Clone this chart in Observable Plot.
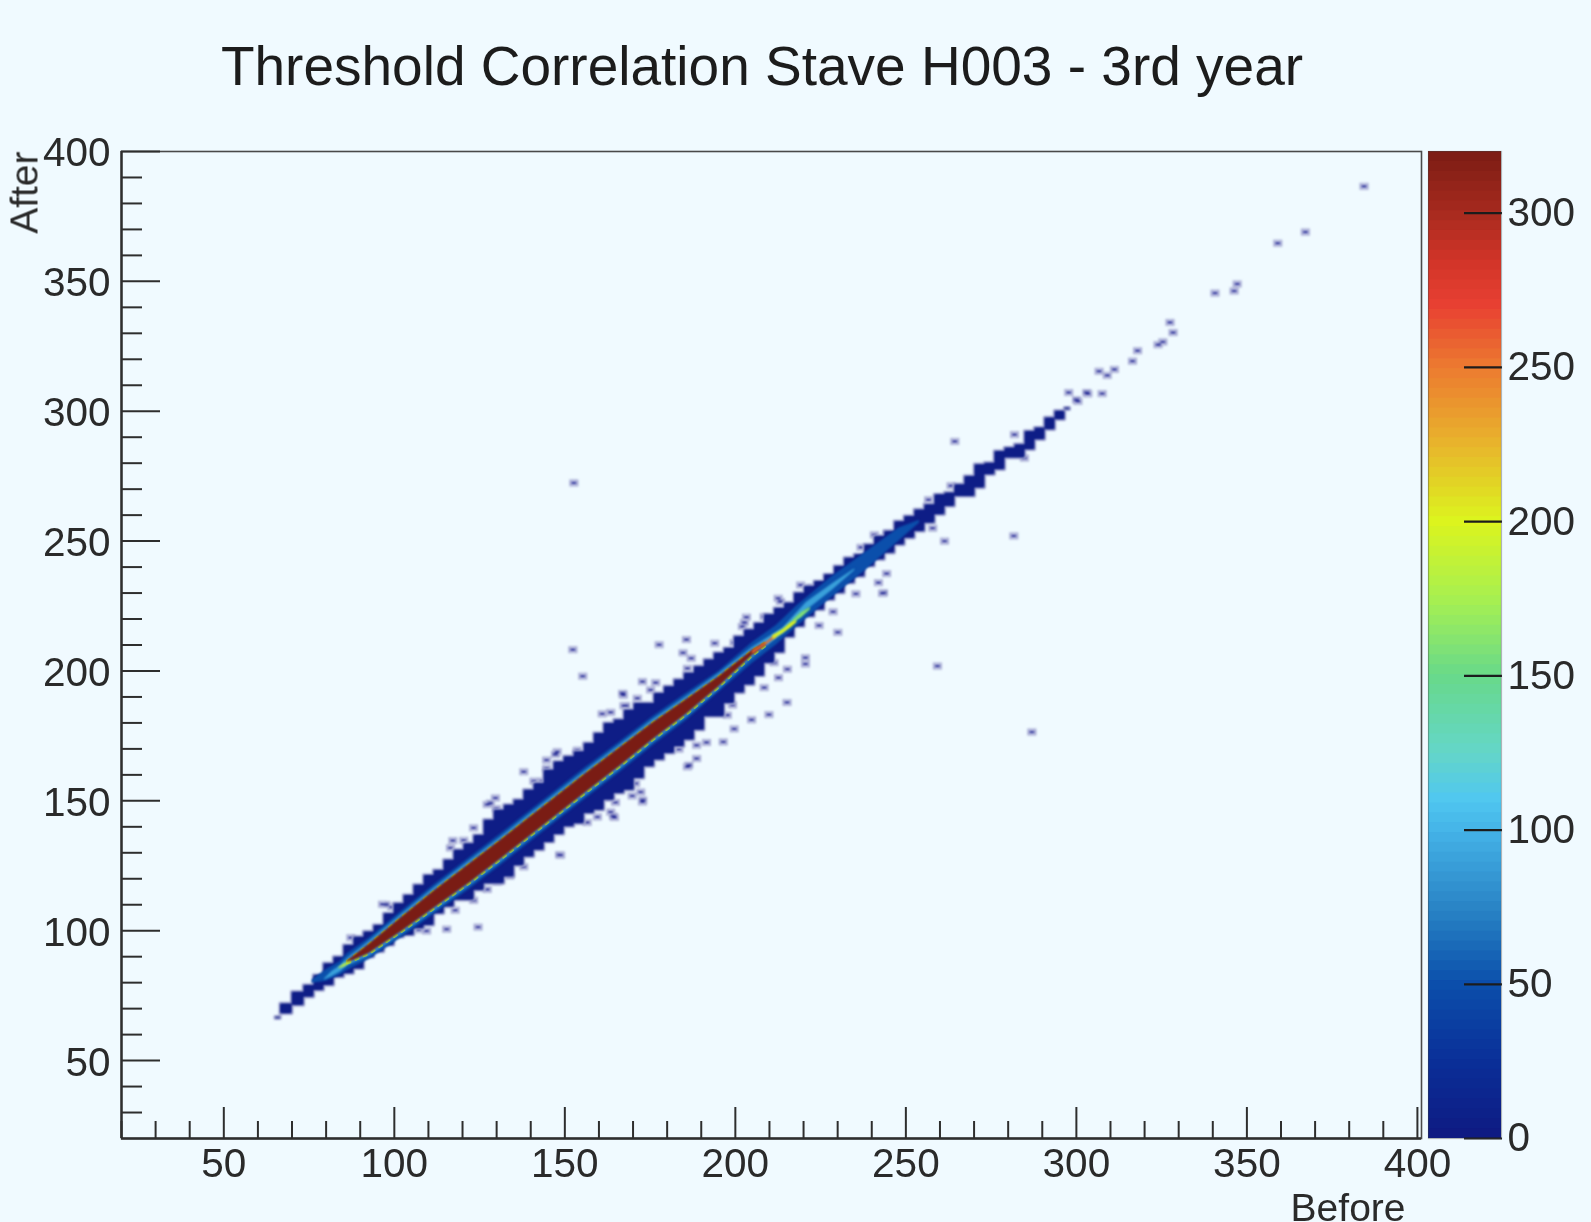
<!DOCTYPE html>
<html><head><meta charset="utf-8">
<script src="https://cdn.jsdelivr.net/npm/d3@7"></script>
<script src="https://cdn.jsdelivr.net/npm/@observablehq/plot@0.6"></script>
<style>
html,body{margin:0;padding:0;background:#f0faff;}
#root{position:relative;width:1591px;height:1222px;overflow:hidden;background:#f0faff;font-family:"Liberation Sans",sans-serif;}
#title{position:absolute;left:0;top:34px;width:1524px;text-align:center;font-size:55px;line-height:64px;color:#1c1c1c;filter:blur(.5px);}
#root svg{position:absolute;left:0;top:0;background:transparent;overflow:visible;}
</style></head><body>
<div id="root"><div id="title">Threshold Correlation Stave H003 - 3rd year</div></div>
<script>
const xMajor = [50,100,150,200,250,300,350,400];
const yMajor = [50,100,150,200,250,300,350,400];
const xMinor = [20,30,40,60,70,80,90,110,120,130,140,160,170,180,190,210,220,230,240,260,270,280,290,310,320,330,340,360,370,380,390];
const yMinor = [30,40,60,70,80,90,110,120,130,140,160,170,180,190,210,220,230,240,260,270,280,290,310,320,330,340,360,370,380,390];
const zTicks = [0,50,100,150,200,250,300];
const zStops  = [0,25,50,75,100,110,125,150,175,200,225,250,270,285,300,320];
const zColors = ["#0f1a82","#0a2f98","#0b4fab","#2a85c6","#45b4e8","#50c8f0","#64d6c8","#68d98a","#a8f050","#dcf41e","#e8b42c","#ec7a30","#e84032","#d03428","#a82a1e","#7a1c14"];

// outer envelope of the populated bins
const outerB = [65.2,68.1,72,75,77.9,80.8,83.8,86.7,89.6,92.6,95.5,98.5,101.4,104.3,107.3,110.2,113.1,116.1,119,121.9,124.9,127.8,130.8,133.7,136.6,139.5,142.5,145.4,148.3,151.3,154.2,157.2,160.1,163,166,168.9,171.8,174.8,177.7,180.7,183.6,186.5,189.5,192.4,195.3,198.3,201.2,204.2,207.1,210,213,215.9,218.8,221.8,224.7,227.6,230.6,233.5,236.5,239.4,242.3,245.3,248.2,251.1,254.1,257,260,262.9,265.8,268.8,271.7,274.6,277.6,280.5,283.5,286.4,289.3,292.3,295.2,298.1];
const outerL = [66.1,68,71.2,74.4,77,78.9,82.1,83.4,85.3,89.8,91.8,94.3,97.5,98.2,100.8,102,106.5,109.1,111.7,111.7,115.5,118.1,118.1,120.7,125,128.4,131,134,137,140,141.2,145.1,146.4,150.2,152.8,154.1,158.6,163.1,165.7,168.2,170.8,173.4,177.2,182.4,182.4,187.5,191.5,194.6,198,203,207,213,217,220.9,223.5,227.3,229.9,233.8,236.3,240.2,242.8,245.3,248.5,251.1,253.7,256.9,260.1,263.3,267.2,267.2,270.4,275.5,277.5,282,282,285.2,289,292.9,296.7,300.6];
const outerH = [66.7,71.8,76.3,78.9,82.8,87.3,89.8,94.3,97.5,99.5,102,106.5,110.4,113.6,117.5,121.3,123.2,127.1,131,133.5,136.7,142.5,146.4,148.3,150.2,154.1,156.7,161.8,165,167,168.9,172.1,175.9,179.8,181.1,184.9,187.5,187.5,191.3,193.9,196.5,199.1,201.6,204.2,206.8,208.7,213.2,215.8,218.3,221.6,224.1,226.1,229.9,232.5,234.4,237,240.2,243.4,244.7,248.5,251.8,253.7,257.5,259.5,262,264,267.8,268.5,271.7,274.9,279.4,280,284.5,285.8,287.1,292.2,293.5,297.4,300,301.2];
// blue inner band
const blueB = [75.9,80,84,86.2,92.6,102.4,112,122,131,139.6,147.5,156,166,175.8,185.5,195.3,205,212,218,228,238,248,254];
const blueL = [79.8,80.5,82.8,84.7,88.9,97.6,106.6,116,125,133.9,142,150.7,160.8,171.2,180.8,192,203,210,217,228,238.5,250,257];
const blueH = [81,85,88,91.1,97.1,107.8,118,128,137,145.9,154,162.7,172.6,182.4,191.2,200,211,217.5,225,236,245.5,255,258];
// shell around the core and its two tails
const shellB = [79.5,81.8,84.3,86.2,92.6,102.4,112,122,131,139.6,147.5,156,166,175.8,185.5,195.3,205,214,220.8,228.6,235];
const shellL = [81,82.4,84.2,86.5,90.2,98.9,107.9,117.3,126.3,135.2,143.3,152,162.1,172.5,182.1,193,205,214.5,223.2,231.3,238.7];
const shellH = [81.4,84.4,86.6,89.3,95.8,106.5,116.7,126.7,135.7,144.6,152.7,161.4,171.3,181.1,189.9,199,209,216.5,226.4,233.7,239.3];
// dark red core
const coreB = [86.2,92.6,102.4,112,122,131,139.6,147.5,156,166,175.8,185.5,195.3,205,209];
const coreL = [87.5,91.2,99.9,108.9,118.3,127.3,136.2,144.3,153,163.1,173.5,183.1,194,206,209.9];
const coreH = [88.3,94.8,105.5,115.7,125.7,134.7,143.6,151.7,160.4,170.3,180.1,188.9,198,208,211.1];
// orange and yellow tips of the core
const tipLowB = [83.8,85.5,87.5];
const tipLowL = [85.4,86.1,87.9];
const tipLowH = [85.8,87.3,88.3];
const tipOrangeB = [205,209,212];
const tipOrangeL = [206.4,210,212.8];
const tipOrangeH = [207.6,211,214];
const tipYellowB = [211,214,216.5,218];
const tipYellowL = [212,214.4,216.8,218.6];
const tipYellowH = [213.6,216,218.8,219.4];
const tipGreenB = [217,219.5,222];
const tipGreenL = [218.4,220.6,223.6];
const tipGreenH = [219.6,222.6,224.4];

// single filled bins [before, after]
const outliers = [[152.3,271.7],[152,207.5],[154.9,197.3],[384,385.9],[358.7,364],[366.8,368.3],[340.3,344.8],[345.9,345.6],[346.8,348.3],[327.1,333.5],[328,329.6],[323.6,324.9],[325,326],[317.6,322.6],[316.1,318.6],[306.3,314.7],[308.7,313.1],[310.8,315.4],[307.2,306.1],[302.7,306.5],[297.4,306.5],[299.7,303.7],[264,287.7],[281.3,251.3],[261,249.3],[258.9,201.2],[286.6,175.8],[244,236.8],[243.1,229.4],[229.7,214.2],[220.2,204.4],[220.2,202],[214.8,187.2],[209.5,182.5],[204.4,180.5],[199.3,177],[177.3,209.4],[185.3,211.4],[124.2,100.7],[115,99.9],[109.1,99.2],[109.7,104],[97.2,109.4],[148.1,128.5],[163.9,143.4],[172.5,149.6],[171.9,152.7],[186,163],[202.9,220],[202.3,218],[212.9,226],[166.6,190.7],[160.6,182.8],[146.9,167.2],[127.8,148.4],[129.3,150.4],[116.8,134],
[172.4,195.2],[166.8,190],[170.9,188.8],[167.5,185.9],[163.1,183.4],[137.6,160.5],[144.3,165],[144.3,161.8],[140.6,156.9],[143,156.9],[147.4,168.2],[153.3,168.8],[129.6,146.3],[126.9,147.9],[122.9,138.9],[116.1,131.2],[120,134.1],[96.2,109.5],[98.9,108.4],[86.9,96.6],[148.4,128.4],[137.6,123.9],[156.2,141],[164.2,142.9],[172.4,148.9],[169.4,151.2],[162.6,150.6],[164.5,148.7],[159.2,143.1],[163.1,145],[126.9,115.2],[122.9,111],[117.5,107.2],[106.8,99.7],[133.5,120.4],[129.8,118.1],[170.4,156],[168,160.5],
[184.3,206.3],[193.6,210],[199.3,210.2],[186.7,204.2],[185.6,200.3],[176.3,194.8],[174.8,192],[167,185.9],[201.7,216.4],[208.1,220.2],[212.2,227.3],[218.8,232.4],[221.8,231.4],[240.4,251.7],[236.5,246.9],[244.3,252.3],[256.3,265.2],[262.9,270.6],[281.5,290.3],[284.4,281.3],[303,306],[300.1,303.1],[241.6,233.3],[242.8,229.2],[235,229],[228.3,222.1],[224.2,216.8],[214.9,200],[212.3,196.7],[211,202.5],[208.1,192.9],[196.1,172],[191.2,171.8],[188.3,170.7],[188.3,165.6],[185.6,162.4],[183.1,169.2],[197.3,182.3],[198.8,186.2],[257.5,254.3]];

const heat = d3.scaleLinear().domain(zStops).range(zColors);
const rows = (b, l, h) => b.map((v, i) => ({b: v, l: l[i], h: h[i]}));
const band = (b, l, h, z, extra = {}) => Plot.areaY(rows(b, l, h),
  {x: "b", y1: "l", y2: "h", fill: heat(z), imageFilter: "blur(0.9px)", ...extra});
const edge = (b, a) => Plot.line(b.map((v, i) => ({b: v, a: a[i]})),
  {x: "b", y: "a", stroke: "#8cc850", strokeWidth: 2.6, strokeDasharray: "3 6", imageFilter: "blur(0.6px)"});
const ink = {stroke: "#2e2e2e", fill: "#2a2a2a"};
const tickBlur = {imageFilter: "blur(0.4px)"};

const main = Plot.plot({
  width: 1591, height: 1222,
  marginLeft: 121, marginRight: 170, marginTop: 151, marginBottom: 84,
  style: {background: "transparent", fontFamily: "'Liberation Sans',sans-serif"},
  x: {domain: [20, 401.2], axis: null, label: null},
  y: {domain: [20, 400], axis: null, label: null},
  marks: [
    Plot.rect(outliers, {x1: d => d[0], x2: d => d[0] + 1, y1: d => d[1], y2: d => d[1] + 1,
      fill: "#f4f6ff", stroke: "#a8acd4", strokeWidth: 1.6, insetLeft: -2, insetRight: -2, insetTop: -1.4, insetBottom: -1.4, imageFilter: "blur(0.9px)"}),
    Plot.rect(outliers, {x1: d => d[0], x2: d => d[0] + 1, y1: d => d[1], y2: d => d[1] + 1,
      fill: "#2c3298", insetLeft: -1, insetRight: -1, imageFilter: "blur(0.9px)"}),
    band(outerB, outerL, outerH, 4, {stroke: "#a8acd4", strokeWidth: 3.4, curve: "step", imageFilter: "blur(1.1px)"}),
    band(outerB, outerL, outerH, 4, {curve: "step", imageFilter: "blur(1.1px)"}),
    band(blueB, blueL, blueH, 50),
    band(shellB, shellL, shellH, 90),
    edge(coreB, coreH),
    edge(coreB, coreL),
    band(coreB, coreL, coreH, 320),
    band(tipLowB, tipLowL, tipLowH, 190),
    band(tipOrangeB, tipOrangeL, tipOrangeH, 255),
    band(tipGreenB, tipGreenL, tipGreenH, 160),
    band(tipYellowB, tipYellowL, tipYellowH, 200),
    Plot.frame({stroke: "#4a4a4a", strokeWidth: 1.6}),
    Plot.axisX(xMinor, {anchor: "bottom", tickSize: -17, tickFormat: () => "", strokeWidth: 2, ...ink, ...tickBlur}),
    Plot.axisY(yMinor, {anchor: "left", tickSize: -21, tickFormat: () => "", strokeWidth: 2, ...ink, ...tickBlur}),
    Plot.axisX(xMajor, {anchor: "bottom", tickSize: -31, tickPadding: 41, fontSize: 40.5, strokeWidth: 2, ...ink, ...tickBlur}),
    Plot.axisY(yMajor, {anchor: "left", tickSize: -39, tickFormat: () => "", strokeWidth: 2, ...ink, ...tickBlur}),
    Plot.axisY(yMajor, {anchor: "left", tickSize: 0, tickPadding: 11, fontSize: 40.5, dy: 2, ...ink}),
    Plot.ruleX([20], {stroke: "#2e2e2e", strokeWidth: 2.4}),
    Plot.ruleY([20], {stroke: "#2e2e2e", strokeWidth: 2.4}),
    Plot.text(["Before"], {frameAnchor: "bottom-right", dx: -16, dy: 82, textAnchor: "end", lineAnchor: "bottom", fontSize: 39, fill: "#2a2a2a"}),
    Plot.text(["After"], {frameAnchor: "top-left", dx: -112, dy: 0, rotate: -90, textAnchor: "end", fontSize: 39, fill: "#2a2a2a"})
  ]
});

const levels = d3.range(0, 320, 3.2);
const bar = Plot.plot({
  width: 1591, height: 1222,
  marginLeft: 1428, marginRight: 90, marginTop: 151, marginBottom: 84,
  style: {background: "transparent", fontFamily: "'Liberation Sans',sans-serif"},
  x: {axis: null, label: null},
  y: {domain: [0, 320], axis: null, label: null},
  color: {type: "linear", domain: zStops, range: zColors, interpolate: "rgb"},
  marks: [
    Plot.rect(levels, {y1: d => d, y2: d => Math.min(320, d + 4.4), fill: d => d + 1.6, imageFilter: "blur(0.4px)"}),
    Plot.axisY(zTicks, {anchor: "right", tickSize: -38, tickPadding: 44, fontSize: 40.5, strokeWidth: 2.2, stroke: "#1c1c1c", fill: "#2a2a2a", imageFilter: "blur(0.4px)"}),
    Plot.frame({stroke: "#40404060", strokeWidth: 1.2})
  ]
});
const root = document.getElementById("root");
root.append(main, bar);
root.querySelectorAll("svg text").forEach(t => t.style.filter = "blur(0.5px)");
</script>
</body></html>
